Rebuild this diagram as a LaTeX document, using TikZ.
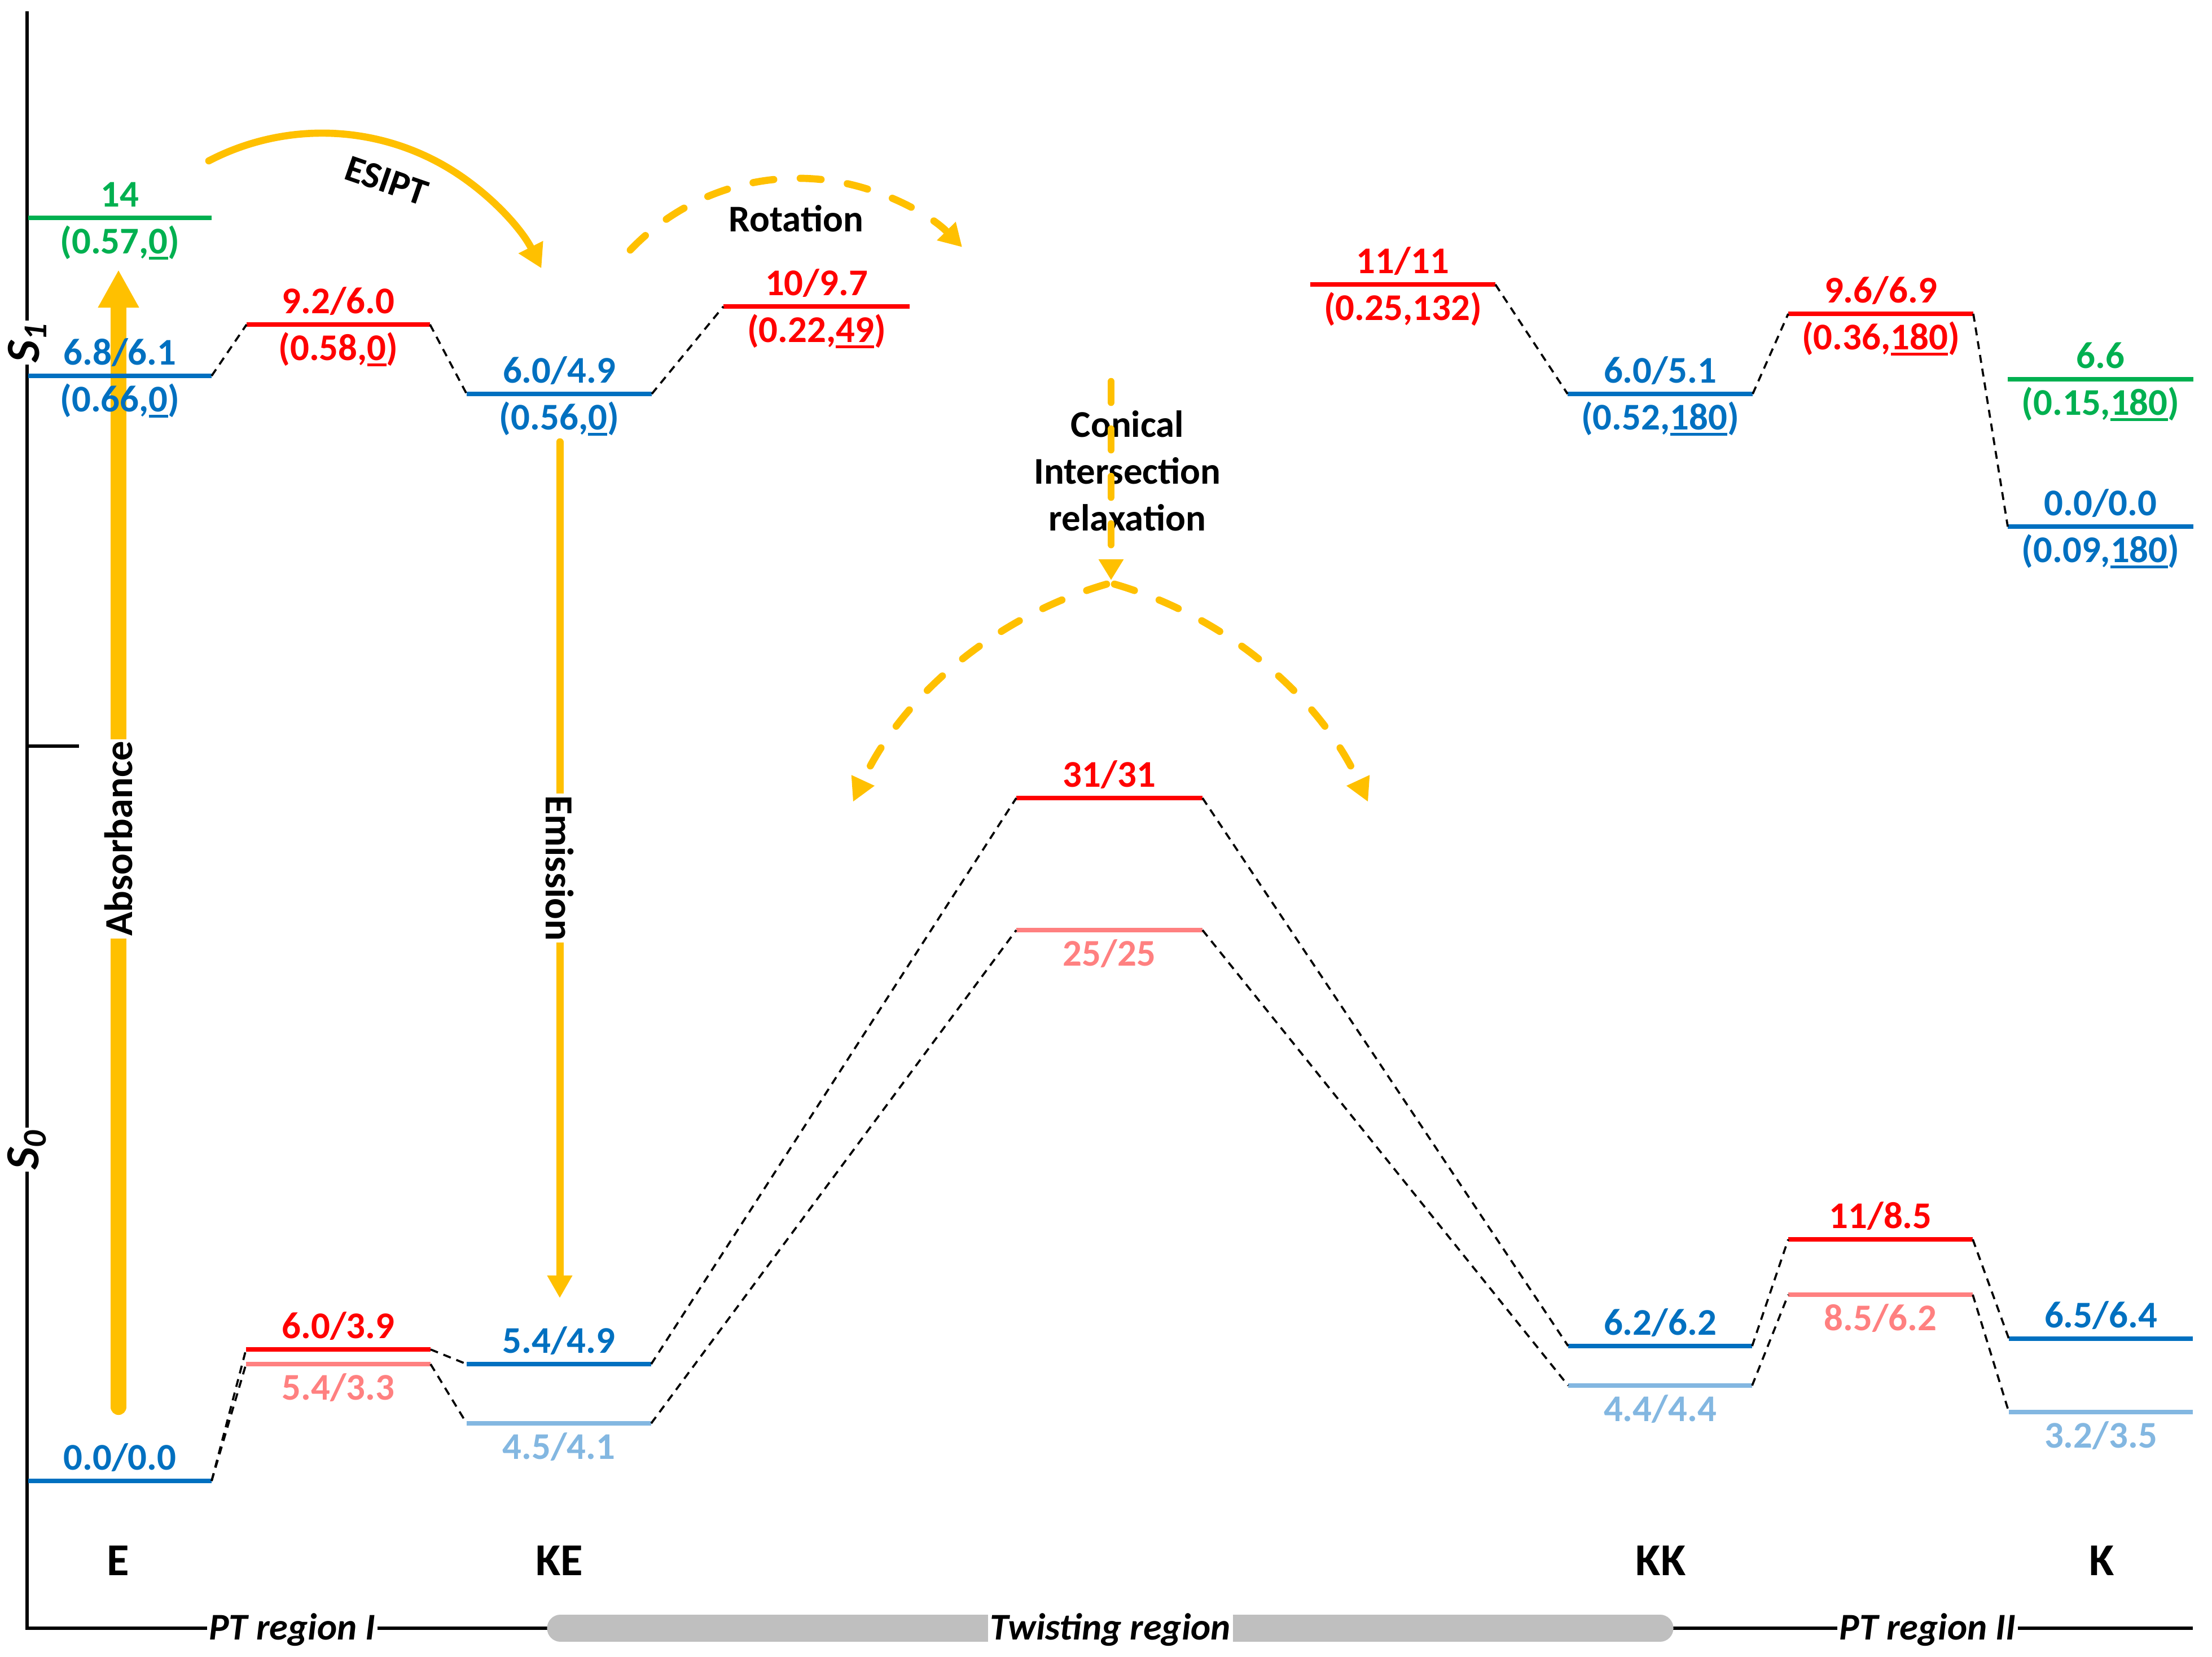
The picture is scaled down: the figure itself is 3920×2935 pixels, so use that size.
\documentclass[tikz,border=0pt]{standalone}
\usepackage{fontspec}
\setmainfont{Carlito}
\usetikzlibrary{arrows.meta,calc}
\definecolor{cblue}{HTML}{0070C0}
\definecolor{cred}{HTML}{FF0000}
\definecolor{cgreen}{HTML}{00B050}
\definecolor{cpink}{HTML}{FF8080}
\definecolor{clblue}{HTML}{83B7E1}
\definecolor{cyel}{HTML}{FFC000}
\definecolor{cgray}{HTML}{BFBFBF}
\newcommand{\lvl}[5]{%
  \coordinate (#1L) at (#2,#4);
  \coordinate (#1R) at (#3,#4);
  \coordinate (#1C) at ({(#2+#3)/2},#4);
  \draw[lvline,#5] (#1L) -- (#1R);}
\newcommand{\labA}[3]{\node[num,text=#2,anchor=base,yshift=0.2cm] (#1a) at (#1C) {#3};}
\newcommand{\labB}[3]{\node[num,text=#2,anchor=base,yshift=-0.63cm] (#1b) at (#1C) {#3};}
\newcommand{\ul}[1]{\setbox0\hbox{#1}\rlap{\raisebox{-0.16em}{\rule{\wd0}{0.065em}}}\box0}
\begin{document}
\begin{tikzpicture}[x=0.01cm,y=-0.01cm,
  lvline/.style={line width=2.1pt},
  conn/.style={black,line width=1.05pt,dash pattern=on 4pt off 3pt},
  axisline/.style={black,line width=1.7pt},
  num/.style={font=\fontsize{19}{23}\selectfont\bfseries,inner sep=0pt},
  big/.style={font=\fontsize{23}{27}\selectfont\bfseries,inner sep=0pt},
  region/.style={font=\fontsize{19}{23}\selectfont\bfseries\itshape,fill=white,inner xsep=1pt,inner ysep=1pt},
  slab/.style={font=\fontsize{24}{28}\selectfont\bfseries\itshape,fill=white,inner sep=1pt,rotate=90},
  yarrow/.style={cyel,line width=3.6pt,line cap=round},
  ydash/.style={cyel,line width=3.6pt,line cap=round,dash pattern=on 0.37cm off 0.47cm},
  ]
\useasboundingbox (0,0) rectangle (3920,2935);
% axes
\coordinate (axT) at (48,20);
\coordinate (axO) at (48,2885);
\coordinate (axE) at (3886,2885);
\coordinate (tkA) at (48,1322);
\coordinate (tkB) at (140,1322);
\draw[axisline] (axT) -- (axO) -- (axE);
\draw[axisline] (tkA) -- (tkB);
\coordinate (gbL) at (993,2885);
\coordinate (gbR) at (2942,2885);
\draw[cgray,line width=13.4pt,line cap=round] (gbL) -- (gbR);
\node[slab] (s1) at (48,607) {S\textsubscript{1}};
\node[slab] (s0) at (48,2037) {S\textsubscript{0}};
% absorbance / emission arrows (behind labels)
\coordinate (abS) at (210,2493);
\coordinate (abE) at (210,478);
\draw[cyel,line width=8pt,line cap=round,-{Triangle[length=0.67cm,width=0.68cm]}] (abS) -- (abE);
\coordinate (emS) at (992,783);
\coordinate (emE) at (992,2300);
\draw[cyel,line width=3.7pt,line cap=round,-{Triangle[length=0.4cm,width=0.42cm]}] (emS) -- (emE);
% S1 levels
\lvl{eG}{50}{375}{386}{cgreen}
\lvl{eB}{50}{375}{666}{cblue}
\lvl{tA}{437}{762}{575}{cred}
\lvl{keS}{827}{1155}{698}{cblue}
\lvl{rot}{1282}{1612}{543}{cred}
\lvl{twa}{2322}{2650}{504}{cred}
\lvl{kkS}{2778}{3106}{698}{cblue}
\lvl{tBS}{3169}{3497}{556}{cred}
\lvl{kG}{3558}{3887}{672}{cgreen}
\lvl{kB}{3558}{3887}{933}{cblue}
% S0 levels
\lvl{ez}{50}{375}{2624}{cblue}
\lvl{tAr}{436}{763}{2391}{cred}
\lvl{tAp}{436}{763}{2417}{cpink}
\lvl{kez}{827}{1154}{2417}{cblue}
\lvl{kel}{827}{1154}{2522}{clblue}
\lvl{mr}{1801}{2131}{1414}{cred}
\lvl{mp}{1801}{2131}{1648}{cpink}
\lvl{kkz}{2779}{3105}{2385}{cblue}
\lvl{kkl}{2779}{3105}{2455}{clblue}
\lvl{tBr}{3169}{3496}{2196}{cred}
\lvl{tBp}{3169}{3496}{2294}{cpink}
\lvl{kz}{3560}{3886}{2372}{cblue}
\lvl{kl}{3560}{3886}{2502}{clblue}
% connectors
\draw[conn] (eBR) -- (tAL);
\draw[conn] (tAR) -- (keSL);
\draw[conn] (keSR) -- (rotL);
\draw[conn] (twaR) -- (kkSL);
\draw[conn] (kkSR) -- (tBSL);
\draw[conn] (tBSR) -- (kBL);
\draw[conn] (ezR) -- (tArL);
\draw[conn] (ezR) -- (tApL);
\draw[conn] (tArR) -- (kezL);
\draw[conn] (tApR) -- (kelL);
\draw[conn] (kezR) -- (mrL);
\draw[conn] (kelR) -- (mpL);
\draw[conn] (mrR) -- (kkzL);
\draw[conn] (mpR) -- (kklL);
\draw[conn] (kkzR) -- (tBrL);
\draw[conn] (kklR) -- (tBpL);
\draw[conn] (tBrR) -- (kzL);
\draw[conn] (tBpR) -- (klL);
% labels S1
\labA{eG}{cgreen}{14}\labB{eG}{cgreen}{(0.57,\ul{0})}
\labA{eB}{cblue}{6.8/6.1}\labB{eB}{cblue}{(0.66,\ul{0})}
\labA{tA}{cred}{9.2/6.0}\labB{tA}{cred}{(0.58,\ul{0})}
\labA{keS}{cblue}{6.0/4.9}\labB{keS}{cblue}{(0.56,\ul{0})}
\labA{rot}{cred}{10/9.7}\labB{rot}{cred}{(0.22,\ul{49})}
\labA{twa}{cred}{11/11}\labB{twa}{cred}{(0.25,132)}
\labA{kkS}{cblue}{6.0/5.1}\labB{kkS}{cblue}{(0.52,\ul{180})}
\labA{tBS}{cred}{9.6/6.9}\labB{tBS}{cred}{(0.36,\ul{180})}
\labA{kG}{cgreen}{6.6}\labB{kG}{cgreen}{(0.15,\ul{180})}
\labA{kB}{cblue}{0.0/0.0}\labB{kB}{cblue}{(0.09,\ul{180})}
% labels S0
\labA{ez}{cblue}{0.0/0.0}
\labA{tAr}{cred}{6.0/3.9}\labB{tAp}{cpink}{5.4/3.3}
\labA{kez}{cblue}{5.4/4.9}\labB{kel}{clblue}{4.5/4.1}
\labA{mr}{cred}{31/31}\labB{mp}{cpink}{25/25}
\labA{kkz}{cblue}{6.2/6.2}\labB{kkl}{clblue}{4.4/4.4}
\labA{tBr}{cred}{11/8.5}\labB{tBp}{cpink}{8.5/6.2}
\labA{kz}{cblue}{6.5/6.4}\labB{kl}{clblue}{3.2/3.5}
% absorbance / emission texts
\node[num,font=\fontsize{20}{24}\selectfont\bfseries,rotate=90,fill=white,inner xsep=1pt,inner ysep=2pt] (abs) at (210,1486) {Absorbance};
\node[num,font=\fontsize{20}{24}\selectfont\bfseries,rotate=-90,fill=white,inner xsep=1pt,inner ysep=2pt] (ems) at (992,1538) {Emission};
% ESIPT
\coordinate (esS) at (370,285);
\draw[yarrow,-{Triangle[length=0.42cm,width=0.46cm]}] (esS) arc[start angle=-117.5,end angle=-26.7,radius=435];
\node[num,rotate=-19] (esipt) at (685,320) {ESIPT};
% Rotation
\coordinate (roS) at (1117,443);
\draw[ydash,-{Triangle[length=0.4cm,width=0.44cm]}] (roS) arc[start angle=-136.4,end angle=-44.6,radius=409.5];
\node[num,anchor=base] (rotl) at (1411,410) {Rotation};
% conical intersection
\node[num,font=\fontsize{19}{23.6}\selectfont\bfseries,align=center] (ci) at (1998,834) {Conical\\Intersection\\relaxation};
\coordinate (ciS) at (1969,676);
\coordinate (ciE) at (1969,1028);
\draw[ydash,-{Triangle[length=0.37cm,width=0.42cm]}] (ciS) -- (ciE);
\coordinate (apL) at (1961,1035);
\coordinate (apR) at (1975,1035);
\draw[ydash,-{Triangle[length=0.42cm,width=0.42cm]}] (apL) arc[start angle=-106.2,end angle=-155.1,radius=715.5];
\draw[ydash,-{Triangle[length=0.42cm,width=0.42cm]}] (apR) arc[start angle=-73.8,end angle=-24.9,radius=715.5];
% species labels
\node[big,anchor=base] (nE) at (209,2791) {E};
\node[big,anchor=base] (nKE) at (991,2791) {KE};
\node[big,anchor=base] (nKK) at (2943,2791) {KK};
\node[big,anchor=base] (nK) at (3725,2791) {K};
% region labels
\node[region,anchor=base] (pt1) at (518,2905) {PT region I};
\node[region,anchor=base] (twr) at (1968,2905) {Twisting region};
\node[region,anchor=base] (pt2) at (3416,2905) {PT region II};
\end{tikzpicture}
\end{document}
